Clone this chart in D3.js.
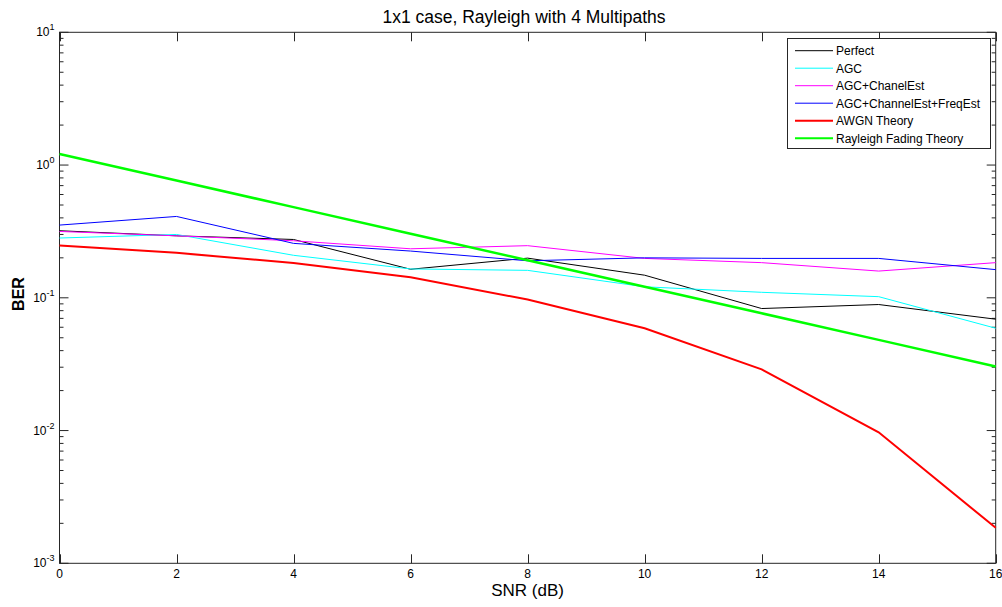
<!DOCTYPE html>
<html><head><meta charset="utf-8">
<script src="https://cdn.jsdelivr.net/npm/d3@7"></script>
<style>
body{margin:0;background:#fff;}
text{font-family:"Liberation Sans",Arial,sans-serif;}
</style></head>
<body><svg id="c" width="1002" height="607"></svg>
<script>
const snr = [0, 2, 4, 6, 8, 10, 12, 14, 16];
const perfect = [0.32, 0.293, 0.275, 0.164, 0.199, 0.148, 0.083, 0.089, 0.069];
const agc = [0.282, 0.30, 0.209, 0.165, 0.161, 0.121, 0.110, 0.102, 0.059];
const agcChan = [0.316, 0.293, 0.269, 0.234, 0.247, 0.198, 0.184, 0.159, 0.184];
const agcChanFreq = [0.353, 0.41, 0.257, 0.225, 0.19, 0.20, 0.198, 0.198, 0.163];
const awgn = [0.248, 0.218, 0.183, 0.143, 0.097, 0.059, 0.0289, 0.0097, 0.00185];
const rayleigh = [1.21, 0.764, 0.482, 0.304, 0.192, 0.121, 0.0764, 0.0482, 0.0304];
const seriesNames = ["Perfect", "AGC", "AGC+ChanelEst", "AGC+ChannelEst+FreqEst", "AWGN Theory", "Rayleigh Fading Theory"];
const seriesColors = ["#000000", "#00ffff", "#ff00ff", "#0000ff", "#ff0000", "#00ff00"];
const seriesWidths = [1, 1, 1, 1, 2, 2.5];
const xTicks = [0, 2, 4, 6, 8, 10, 12, 14, 16];
const yExps = [-3, -2, -1, 0, 1];

const allSeries = [perfect, agc, agcChan, agcChanFreq, awgn, rayleigh];
const L = 59.5, R = 995.7, T = 32.3, B = 563.3;
const svg = d3.select("#c");
const x = d3.scaleLinear().domain([0, 16]).range([L, R]);
const y = d3.scaleLog().domain([1e-3, 1e1]).range([B, T]);

// box
svg.append("rect").attr("x", L).attr("y", T).attr("width", R - L).attr("height", B - T)
  .attr("fill", "#fff").attr("stroke", "#262626").attr("stroke-width", 1);

const g = svg.append("g");
// x ticks (bottom and top)
xTicks.forEach(t => {
  const px = Math.round(x(t)) + 0.5;
  g.append("line").attr("x1", px).attr("x2", px).attr("y1", B).attr("y2", B - 9).attr("stroke", "#262626");
  g.append("line").attr("x1", px).attr("x2", px).attr("y1", T).attr("y2", T + 9).attr("stroke", "#262626");
  g.append("text").attr("x", x(t)).attr("y", B + 15).attr("text-anchor", "middle")
    .attr("font-size", 12).attr("fill", "#000").text(t);
});
// y ticks
yExps.forEach((e, i) => {
  const v = Math.pow(10, e);
  const py = y(v);
  [[L, 1], [R, -1]].forEach(([bx, dir]) => {
    g.append("line").attr("x1", bx).attr("x2", bx + dir * 9).attr("y1", py).attr("y2", py).attr("stroke", "#262626");
    if (i < yExps.length - 1) {
      for (let m = 2; m <= 9; m++) {
        const pm = y(m * v);
        g.append("line").attr("x1", bx).attr("x2", bx + dir * 4).attr("y1", pm).attr("y2", pm).attr("stroke", "#262626");
      }
    }
  });
  const tx = g.append("text").attr("x", L - 5).attr("y", py + 4).attr("text-anchor", "end")
    .attr("font-size", 12).attr("fill", "#000");
  tx.append("tspan").text("10");
  tx.append("tspan").attr("dy", -6).attr("font-size", 9).text(e);
});

// lines
const line = d3.line().x((d, i) => x(snr[i])).y(d => y(d));
allSeries.forEach((s, k) => {
  svg.append("path").datum(s).attr("d", line).attr("fill", "none")
    .attr("stroke", seriesColors[k]).attr("stroke-width", seriesWidths[k]);
});

// title & labels
svg.append("text").attr("x", 524).attr("y", 23).attr("text-anchor", "middle")
  .attr("font-size", 17.5).text("1x1 case, Rayleigh with 4 Multipaths");
svg.append("text").attr("x", (L + R) / 2).attr("y", 596).attr("text-anchor", "middle")
  .attr("font-size", 17).text("SNR (dB)");
svg.append("text").attr("transform", `translate(24,294) rotate(-90)`).attr("text-anchor", "middle")
  .attr("font-size", 16).attr("font-weight", "bold").text("BER");

// legend
const lg = svg.append("g");
lg.append("rect").attr("x", 787.5).attr("y", 38.5).attr("width", 203).attr("height", 110)
  .attr("fill", "#fff").attr("stroke", "#262626");
seriesNames.forEach((n, k) => {
  const ly = 50.7 + k * 17.5;
  lg.append("line").attr("x1", 795).attr("x2", 833).attr("y1", ly).attr("y2", ly)
    .attr("stroke", seriesColors[k]).attr("stroke-width", seriesWidths[k] > 1 ? 2 : 1);
  lg.append("text").attr("x", 836).attr("y", ly + 4.5).attr("font-size", 12).attr("fill", "#000").text(n);
});
</script></body></html>
